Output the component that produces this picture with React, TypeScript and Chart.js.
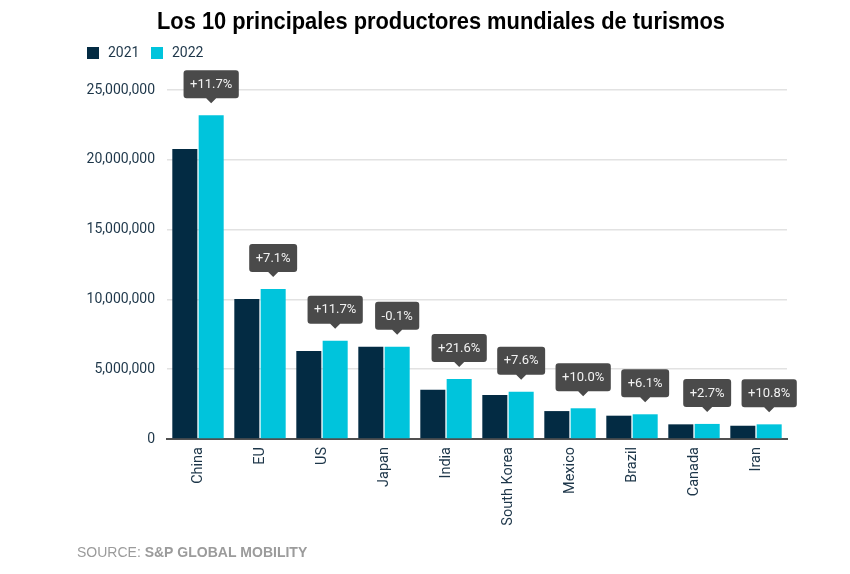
import React, { useEffect, useRef } from "react";
import { Chart, registerables } from "chart.js";

Chart.register(...registerables);

const chartTitle = "Los 10 principales productores mundiales de turismos";
const categories = ["China", "EU", "US", "Japan", "India", "South Korea", "Mexico", "Brazil", "Canada", "Iran"];
const seriesNames = ["2021", "2022"];
const values2021 = [20770000, 10030000, 6300000, 6600000, 3530000, 3150000, 2000000, 1670000, 1050000, 950000];
const values2022 = [23200000, 10750000, 7040000, 6600000, 4290000, 3390000, 2200000, 1770000, 1080000, 1050000];
const changeLabels = ["+11.7%", "+7.1%", "+11.7%", "-0.1%", "+21.6%", "+7.6%", "+10.0%", "+6.1%", "+2.7%", "+10.8%"];
const yMin = 0;
const yMax = 25000000;
const yStep = 5000000;
const sourcePrefix = "SOURCE: ";
const sourceName = "S&P GLOBAL MOBILITY";

const COLOR_2021 = "#032B43";
const COLOR_2022 = "#00C4DC";
const TEXT_NAVY = "#1d3649";

const overlayPlugin = {
  id: "overlay",
  afterDraw(chart: any) {
    const ctx = chart.ctx as CanvasRenderingContext2D;
    ctx.save();

    // Title (condensed to match the reference's narrow face)
    ctx.fillStyle = "#000";
    ctx.textAlign = "center";
    ctx.textBaseline = "middle";
    ctx.font = 'bold 24px "Liberation Sans", Arial, sans-serif';
    const tW = ctx.measureText(chartTitle).width;
    const sx = Math.min(1, 568 / tW);
    ctx.save();
    ctx.translate(441, 22);
    ctx.scale(sx, 1);
    ctx.fillText(chartTitle, 0, 0);
    ctx.restore();

    // Legend
    const colors = [COLOR_2021, COLOR_2022];
    const legendX = [87, 151];
    ctx.font = '14px Roboto, sans-serif';
    ctx.textAlign = "left";
    seriesNames.forEach((name, i) => {
      ctx.fillStyle = colors[i];
      ctx.fillRect(legendX[i], 47, 12, 12);
      ctx.fillStyle = TEXT_NAVY;
      ctx.fillText(name, legendX[i] + 21, 53.5);
    });

    // Source
    ctx.font = '14px "Liberation Sans", Arial, sans-serif';
    ctx.fillStyle = "#9b9b9b";
    ctx.fillText(sourcePrefix, 77, 553);
    const w = ctx.measureText(sourcePrefix).width;
    ctx.font = 'bold 14px "Liberation Sans", Arial, sans-serif';
    ctx.fillText(sourceName, 77 + w, 553);

    // Change callouts
    const meta = chart.getDatasetMeta(1);
    ctx.font = '13px Roboto, sans-serif';
    meta.data.forEach((el: any, i: number) => {
      const label = changeLabels[i];
      const tw = ctx.measureText(label).width;
      const bw = tw + 13;
      const bh = 28;
      const tipY = el.y - 12;
      const bottom = tipY - 5;
      const top = bottom - bh;
      const left = el.x - bw / 2;
      const r = 3;
      ctx.fillStyle = "#4a4a4a";
      ctx.beginPath();
      ctx.moveTo(left + r, top);
      ctx.lineTo(left + bw - r, top);
      ctx.quadraticCurveTo(left + bw, top, left + bw, top + r);
      ctx.lineTo(left + bw, bottom - r);
      ctx.quadraticCurveTo(left + bw, bottom, left + bw - r, bottom);
      ctx.lineTo(el.x + 5, bottom);
      ctx.lineTo(el.x, tipY);
      ctx.lineTo(el.x - 5, bottom);
      ctx.lineTo(left + r, bottom);
      ctx.quadraticCurveTo(left, bottom, left, bottom - r);
      ctx.lineTo(left, top + r);
      ctx.quadraticCurveTo(left, top, left + r, top);
      ctx.closePath();
      ctx.fill();
      ctx.fillStyle = "#f2f2f2";
      ctx.textAlign = "center";
      ctx.textBaseline = "middle";
      ctx.fillText(label, el.x, (top + bottom) / 2 + 0.5);
    });

    ctx.restore();
  },
};

export default function App() {
  const canvasRef = useRef<HTMLCanvasElement | null>(null);

  useEffect(() => {
    if (!canvasRef.current) return;
    const chart = new Chart(canvasRef.current, {
      type: "bar",
      data: {
        labels: categories,
        datasets: [
          {
            label: seriesNames[0],
            data: values2021,
            backgroundColor: COLOR_2021,
            categoryPercentage: 0.85,
            barPercentage: 0.95,
          },
          {
            label: seriesNames[1],
            data: values2022,
            backgroundColor: COLOR_2022,
            categoryPercentage: 0.85,
            barPercentage: 0.95,
          },
        ],
      },
      options: {
        responsive: false,
        animation: false,
        layout: { padding: { top: 90, right: 63, left: 0, bottom: 0 } },
        plugins: {
          legend: { display: false },
          title: { display: false },
          tooltip: { enabled: false },
        },
        scales: {
          x: {
            grid: { display: false },
            border: { display: true, color: "#505050", width: 2 },
            ticks: {
              autoSkip: false,
              minRotation: 90,
              maxRotation: 90,
              padding: 0,
              color: TEXT_NAVY,
              font: { family: "Roboto, sans-serif", size: 14.5 },
            },
            afterFit: (scale: any) => {
              scale.height = 135;
            },
          },
          y: {
            min: yMin,
            max: yMax,
            grid: { color: "#e2e2e2", lineWidth: 1.5, drawTicks: false },
            border: { display: false },
            ticks: {
              stepSize: yStep,
              padding: 12,
              color: TEXT_NAVY,
              font: { family: "Roboto, sans-serif", size: 14 },
              callback: (v: any) => Number(v).toLocaleString("en-US"),
            },
            afterFit: (scale: any) => {
              scale.width = 167;
            },
          },
        },
      },
      plugins: [overlayPlugin],
    });
    return () => chart.destroy();
  }, []);

  return (
    <div style={{ position: "absolute", left: 0, top: 0, width: 850, height: 574, background: "#fff" }}>
      <canvas ref={canvasRef} width={850} height={574} />
    </div>
  );
}
